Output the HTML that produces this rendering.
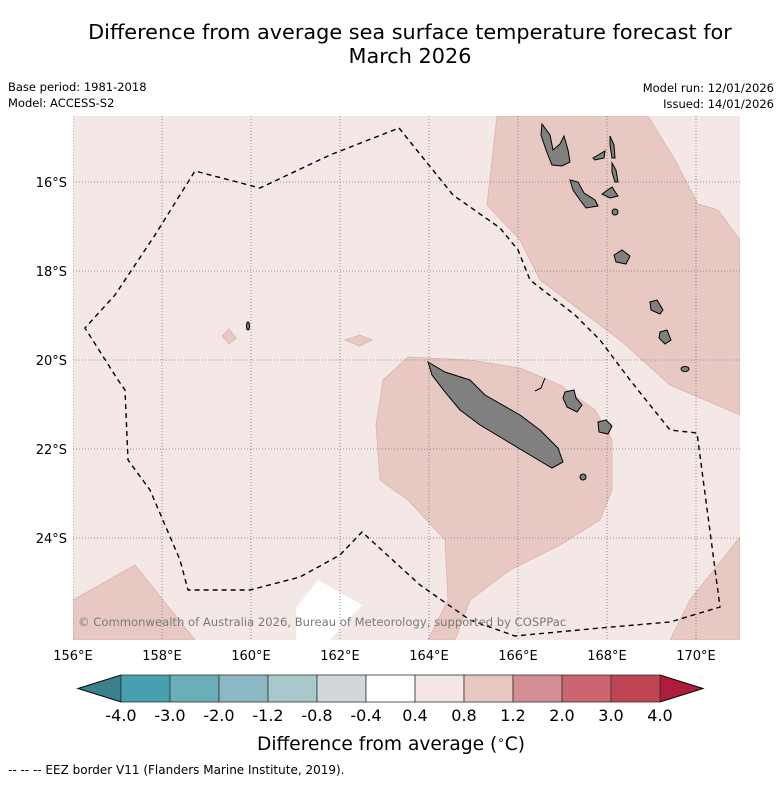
<!DOCTYPE html>
<html><head><meta charset="utf-8"><style>
body{margin:0;background:#fff;width:781px;height:781px;overflow:hidden;font-family:"DejaVu Sans","Liberation Sans",sans-serif;}
svg text{font-family:"DejaVu Sans","Liberation Sans",sans-serif;}
</style></head><body>
<svg width="781" height="781" viewBox="0 0 781 781" xmlns="http://www.w3.org/2000/svg">
<g font-size="20.8" text-anchor="middle" fill="#000">
<text x="410" y="39">Difference from average sea surface temperature forecast for</text>
<text x="410" y="63">March 2026</text>
</g>
<g font-size="11.5" fill="#000">
<text x="8" y="91">Base period: 1981-2018</text>
<text x="8" y="107">Model: ACCESS-S2</text>
<text x="774" y="92" text-anchor="end">Model run: 12/01/2026</text>
<text x="774" y="108" text-anchor="end">Issued: 14/01/2026</text>
</g>
<defs><clipPath id="mc"><rect x="73" y="116" width="667" height="524"/></clipPath></defs>
<g clip-path="url(#mc)">
<rect x="73" y="116" width="667" height="524" fill="#f4e8e6"/>
<g fill="#e8c8c3" stroke="#dcb2ad" stroke-width="0.8">
<path d="M497,116 L487,205 L520,240 L540,280 L580,310 L620,340 L670,385 L740,415 L740,240 L718,210 L698,204 L675,160 L648,116 Z"/>
<path d="M408,357 L470,360 L520,368 L560,385 L595,410 L612,440 L612,490 L600,520 L560,545 L510,570 L470,600 L455,640 L428,640 L448,600 L445,540 L408,500 L380,480 L376,425 L383,380 Z"/>
<path d="M73,600 L135,565 L195,640 L73,640 Z"/>
<path d="M670,640 L690,600 L740,537 L740,640 Z"/>
<path d="M345,340 L360,335 L372,340 L360,346 Z"/>
<path d="M222,336 L229,329 L236,338 L229,344 Z"/>
</g>
<path d="M296,608 L318,580 L362,605 L330,640 L296,640 Z" fill="#ffffff"/>
<g id="grid" stroke="#777" stroke-width="0.8" stroke-dasharray="1,2"></g>
<g fill="#808080" stroke="#000" stroke-width="1">
<path d="M428,362 L445,372 L470,380 L485,395 L520,415 L540,430 L558,448 L563,462 L552,468 L530,455 L505,440 L480,425 L460,410 L445,392 L432,375 Z"/>
<path d="M565,392 L574,390 L576,398 L582,405 L577,412 L567,407 L563,398 Z"/>
<path d="M598,422 L606,420 L612,426 L608,434 L599,432 Z"/>
<path d="M545,378 L541,388 L535,391" fill="none"/>
<ellipse cx="583" cy="477" rx="3" ry="3"/>
<path d="M542,124 L550,135 L553,150 L560,144 L564,136 L568,150 L570,162 L562,166 L552,165 L546,150 L541,135 Z"/>
<path d="M570,180 L578,182 L584,193 L595,200 L598,206 L586,208 L580,200 L573,190 Z"/>
<path d="M602,194 L612,187 L618,196 L610,198 Z"/>
<path d="M610,136 L614,145 L615,158 L612,158 L610,145 Z"/>
<path d="M612,163 L616,170 L618,182 L615,182 L612,172 Z"/>
<path d="M593,158 L605,151 L604,158 L595,160 Z"/>
<path d="M614,255 L622,250 L630,256 L626,264 L616,262 Z"/>
<path d="M650,302 L657,300 L663,310 L660,314 L651,310 Z"/>
<path d="M660,332 L667,330 L671,340 L665,344 L659,338 Z"/>
<ellipse cx="685" cy="369" rx="4" ry="2.5"/>
<ellipse cx="615" cy="212" rx="3" ry="3"/>
<ellipse cx="248" cy="326" rx="1.5" ry="4"/>
</g>
<path id="eez" fill="none" stroke="#000" stroke-width="1.4" stroke-dasharray="5,4" d="M399,128 L453,195 L500,228 L518,250 L530,280 L575,315 L600,340 L630,380 L670,430 L697,433 L720,607 L670,622 L600,628 L515,636 L470,620 L420,585 L362,532 L340,555 L300,577 L250,590 L188,590 L180,560 L150,490 L128,460 L125,390 L118,380 L85,328 L115,295 L155,235 L195,171 L260,188 L330,155 Z"/>
<text x="78" y="626" font-size="11.6" fill="#7a7a7a">© Commonwealth of Australia 2026, Bureau of Meteorology, supported by COSPPac</text>
</g>
<g id="axes" font-size="13" fill="#000"></g>
<g id="cbar"></g>
<text x="391" y="750" font-size="18.6" text-anchor="middle">Difference from average (<tspan font-size="12" dy="-6">∘</tspan><tspan dy="6">C)</tspan></text>
<text x="8" y="774" font-size="12">--  --  -- EEZ border V11 (Flanders Marine Institute, 2019).</text>
</svg>
<script>
const lonTicks=[156,158,160,162,164,166,168,170];
const latTicks=[16,18,20,22,24];
const cbLevels=["-4.0","-3.0","-2.0","-1.2","-0.8","-0.4","0.4","0.8","1.2","2.0","3.0","4.0"];
const cbColors=["#46a0b0","#6aaeba","#8bb8c2","#a9c8cb","#d1d7da","#ffffff","#f4e6e4","#e8c6c1","#d58e93","#cb6670","#bf4555"];
const cbLow="#3a818c", cbHigh="#b01d3c";
const NS="http://www.w3.org/2000/svg";
const X0=73,Y0=182,PX=44.5;
const xLon=l=>X0+(l-156)*PX;
const yLat=l=>Y0+(l-16)*PX;
function mk(t,a,p){const e=document.createElementNS(NS,t);for(const k in a)e.setAttribute(k,a[k]);p.appendChild(e);return e;}
const grid=document.getElementById('grid'),axes=document.getElementById('axes');
lonTicks.forEach(l=>{const x=xLon(l);
 const g=mk('line',{x1:x,x2:x,y1:116,y2:640},grid);
 
 
 const t=mk('text',{x:x,y:660,'text-anchor':'middle'},axes);t.textContent=l+'°E';
 
 
});
latTicks.forEach(l=>{const y=yLat(l);
 const g=mk('line',{x1:73,x2:740,y1:y,y2:y},grid);
 
 
 const t=mk('text',{x:67,y:y+5,'text-anchor':'end'},axes);t.textContent=l+'°S';
 
 
});
const cb=document.getElementById('cbar');
const cx0=121,cw=49,cy=675,ch=27;
const n=cbColors.length;
let tl=mk('polygon',{points:`${cx0},${cy} ${cx0},${cy+ch} ${cx0-43},${cy+ch/2}`,fill:cbLow,stroke:'#000','stroke-width':1},cb);


let xe=cx0+n*cw;
let tr=mk('polygon',{points:`${xe},${cy} ${xe},${cy+ch} ${xe+43},${cy+ch/2}`,fill:cbHigh,stroke:'#000','stroke-width':1},cb);


cbColors.forEach((c,i)=>{const r=mk('rect',{x:cx0+i*cw,y:cy,width:cw,height:ch,fill:c,stroke:'#333','stroke-width':0.8},cb);
 
 
});
cbLevels.forEach((s,i)=>{const t=mk('text',{x:cx0+i*cw,y:721,'text-anchor':'middle','font-size':16},cb);t.textContent=s;
 
 
});
</script>
</body></html>
